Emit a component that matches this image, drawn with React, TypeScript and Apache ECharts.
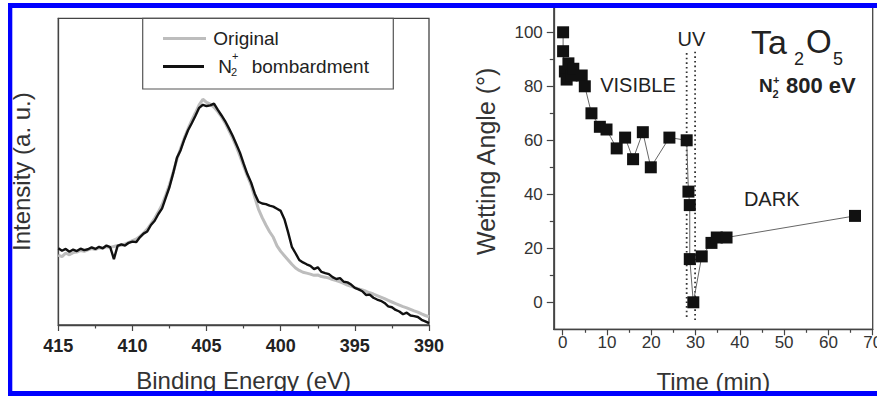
import React, { useEffect, useRef } from "react";
import * as echarts from "echarts";

// ---------- Left panel: XPS spectra ----------
const bindingEnergy = [
  415, 414.75, 414.5, 414.25, 414, 413.75, 413.5, 413.25, 413, 412.75, 412.5, 412.25, 412,
  411.75, 411.5, 411.25, 411, 410.75, 410.5, 410.25, 410, 409.75, 409.5, 409.25, 409, 408.75,
  408.5, 408.25, 408, 407.75, 407.5, 407.25, 407, 406.75, 406.5, 406.25, 406, 405.75, 405.5,
  405.25, 405, 404.75, 404.5, 404.25, 404, 403.75, 403.5, 403.25, 403, 402.75, 402.5, 402.25,
  402, 401.75, 401.5, 401.25, 401, 400.75, 400.5, 400.25, 400, 399.75, 399.5, 399.25, 399,
  398.75, 398.5, 398.25, 398, 397.75, 397.5, 397.25, 397, 396.75, 396.5, 396.25, 396, 395.75,
  395.5, 395.25, 395, 394.75, 394.5, 394.25, 394, 393.75, 393.5, 393.25, 393, 392.75, 392.5,
  392.25, 392, 391.75, 391.5, 391.25, 391, 390.75, 390.5, 390.25, 390,
];

const originalIntensity = [
  22.8, 22.3, 23.4, 22.9, 23.6, 23.8, 24.3, 24.0, 24.5, 24.9, 24.6, 25.2, 25.1,
  25.5, 25.3, 25.6, 25.9, 26.0, 26.4, 26.9, 27.5, 28.0, 28.9, 30.0, 31.3, 33.0,
  34.8, 36.9, 39.2, 42.4, 45.8, 49.8, 54.0, 57.6, 61.0, 64.0, 66.7, 69.2, 71.8,
  73.6, 72.6, 72.0, 71.0, 69.6, 67.9, 65.9, 63.5, 61.0, 58.2, 55.1, 51.8, 48.6,
  45.7, 41.6, 37.8, 35.0, 32.6, 30.4, 28.6, 25.8, 24.0, 22.6, 21.2, 19.8, 18.6,
  17.8, 17.2, 16.9, 16.6, 16.2, 16.3, 15.8, 15.6, 15.3, 14.8, 14.5, 14.1, 13.6,
  13.0, 12.6, 12.2, 11.8, 11.4, 11.0, 10.5, 10.1, 9.6, 9.1, 8.6, 8.0, 7.5,
  7.0, 6.5, 6.0, 5.6, 5.1, 4.6, 4.2, 3.6, 3.1, 2.7,
];

const bombardedIntensity = [
  25.0, 24.2, 24.8, 23.9, 24.6, 24.1, 24.9, 24.4, 24.7, 25.3, 24.8, 25.5, 25.0,
  25.9, 25.4, 21.5, 25.8, 26.3, 25.9, 26.8, 27.2, 27.0, 28.6, 29.8, 30.5, 32.6,
  34.0, 36.2, 38.0, 41.5, 45.0, 49.5, 54.5, 57.0, 60.5, 63.5, 65.8, 68.2, 70.8,
  71.8, 71.4, 71.6, 72.2, 70.2, 68.4, 66.5, 64.2, 61.8, 59.0, 56.2, 52.6, 49.2,
  46.5, 42.8, 40.2, 39.6, 39.4, 38.9, 38.6, 37.9, 37.2, 34.5, 30.2, 25.5, 23.4,
  21.2, 20.4, 19.8, 19.3, 18.2, 18.8, 17.3, 16.9, 16.6, 15.6, 15.0, 15.3, 14.1,
  13.9, 13.2, 12.1, 11.6, 11.0, 9.8, 9.9, 8.9, 8.3, 7.9, 7.2, 6.1, 5.8,
  4.9, 4.4, 3.5, 4.0, 3.1, 2.9, 2.6, 1.7, 1.2, 0.6,
];

const energyTickLabels = [415, 410, 405, 400, 395, 390];

// ---------- Right panel: wetting angle ----------
const timeMin = [
  0.1, 0.1, 0.5, 0.9, 1.3, 2.0, 2.4, 4.3, 5.0, 6.5, 8.4, 9.9, 12.2, 14.1, 15.9, 18.1, 19.9,
  24.1, 28.0, 28.4, 28.7, 28.7, 29.5, 31.4, 33.6, 34.8, 37.0, 66.0,
];
const wettingAngle = [
  100, 93, 85.5, 82.5, 88.5, 84, 86.5, 84, 80, 70, 65, 64, 57, 61, 53, 63, 50,
  61, 60, 41, 36, 16, 0, 17, 22, 24, 24, 32,
];
const uvStartLine = [[28.0, 92.3], [28.0, -6.2]];
const uvEndLine = [[29.9, 92.8], [29.9, -6.6]];

const timeTickLabels = [0, 10, 20, 30, 40, 50, 60, 70];
const timeMinorTicks = [5, 15, 25, 35, 45, 55, 65];
const angleTickLabels = [0, 20, 40, 60, 80, 100];
const angleMinorTicks = [10, 30, 50, 70, 90];

const FONT = "'Liberation Sans', Arial, Helvetica, sans-serif";
const AXIS_COLOR = "#444";
const BLUE = "#0000ff";

function txt(text: string, x: number, y: number, size: number, opts: any = {}) {
  return {
    type: "text",
    x,
    y,
    z: 50,
    style: {
      text,
      fill: opts.fill || "#222",
      fontSize: size,
      fontFamily: FONT,
      fontWeight: opts.bold ? "bold" : "normal",
      align: opts.align || "left",
      verticalAlign: "middle",
    },
  };
}

export default function App() {
  const ref = useRef<HTMLDivElement>(null);

  useEffect(() => {
    if (!ref.current) return;
    const chart = echarts.init(ref.current, null, { renderer: "svg" });

    const axisLine = { show: true, onZero: false, lineStyle: { color: AXIS_COLOR, width: 1.3 } };
    const tickStyle = { color: AXIS_COLOR, width: 1.2 };

    const option: any = {
      animation: false,
      backgroundColor: "#fff",
      grid: [
        {
          left: 58.3, top: 18.3, width: 370.7, height: 306.7,
          show: true, borderColor: AXIS_COLOR, borderWidth: 1.3, backgroundColor: "transparent",
          outerBoundsMode: "none",
        },
        {
          left: 553.8, top: 5.3, width: 318.9, height: 324,
          show: true, borderColor: AXIS_COLOR, borderWidth: 1.3, backgroundColor: "transparent",
          outerBoundsMode: "none",
        },
      ],
      xAxis: [
        {
          gridIndex: 0, type: "value", min: 390, max: 415, inverse: true, interval: 5,
          axisLine,
          axisTick: { show: true, inside: false, length: 6, lineStyle: tickStyle },
          minorTick: { show: true, splitNumber: 2, length: 3.5, lineStyle: tickStyle },
          splitLine: { show: false }, minorSplitLine: { show: false },
          axisLabel: {
            fontSize: 18, fontWeight: "bold", color: "#222", fontFamily: FONT, margin: 12,
            formatter: (v: number) => (energyTickLabels.includes(v) ? String(v) : ""),
          },
          name: "Binding Energy (eV)", nameLocation: "middle", nameGap: 43,
          nameTextStyle: { fontSize: 24, color: "#333", fontFamily: FONT },
        },
        {
          gridIndex: 1, type: "value", min: -2, max: 70,
          axisLine,
          axisTick: { show: true, inside: false, length: 6, lineStyle: tickStyle, customValues: timeTickLabels },
          axisLabel: { fontSize: 17, color: "#333", fontFamily: FONT, margin: 5, customValues: timeTickLabels },
          splitLine: { show: false },
          name: "Time (min)", nameLocation: "middle", nameGap: 40,
          nameTextStyle: { fontSize: 24, color: "#333", fontFamily: FONT },
        },
        {
          gridIndex: 1, type: "value", min: -2, max: 70, position: "bottom",
          axisLine: { show: false, onZero: false },
          axisTick: { show: true, inside: false, length: 3.5, lineStyle: tickStyle, customValues: timeMinorTicks },
          axisLabel: { show: false },
          splitLine: { show: false },
        },
      ],
      yAxis: [
        {
          gridIndex: 0, type: "value", min: 0, max: 100,
          axisLine,
          axisTick: { show: false },
          axisLabel: { show: false },
          splitLine: { show: false },
          name: "Intensity (a. u.)", nameLocation: "middle", nameGap: 25, nameRotate: 90,
          nameTextStyle: { fontSize: 24, color: "#333", fontFamily: FONT },
        },
        {
          gridIndex: 1, type: "value", min: -10, max: 110,
          axisLine,
          axisTick: { show: true, inside: false, length: 7, lineStyle: tickStyle, customValues: angleTickLabels },
          axisLabel: { fontSize: 17, color: "#333", fontFamily: FONT, margin: 11, customValues: angleTickLabels },
          splitLine: { show: false },
          name: "Wetting Angle (°)", nameLocation: "middle", nameGap: 55, nameRotate: 90,
          nameTextStyle: { fontSize: 25, color: "#333", fontFamily: FONT, padding: [0, 0, 0, 12] },
        },
        {
          gridIndex: 1, type: "value", min: -10, max: 110, position: "left",
          axisLine: { show: false, onZero: false },
          axisTick: { show: true, inside: false, length: 4, lineStyle: tickStyle, customValues: angleMinorTicks },
          axisLabel: { show: false },
          splitLine: { show: false },
        },
      ],
      series: [
        {
          name: "Original", type: "line", xAxisIndex: 0, yAxisIndex: 0, showSymbol: false,
          data: bindingEnergy.map((e, i) => [e, originalIntensity[i]]),
          lineStyle: { color: "#bdbdbd", width: 3 }, itemStyle: { color: "#bdbdbd" },
        },
        {
          name: "N2+ bombardment", type: "line", xAxisIndex: 0, yAxisIndex: 0, showSymbol: false,
          data: bindingEnergy.map((e, i) => [e, bombardedIntensity[i]]),
          lineStyle: { color: "#111", width: 2.4 }, itemStyle: { color: "#111" },
        },
        {
          name: "UV on", type: "line", xAxisIndex: 1, yAxisIndex: 1, showSymbol: false,
          data: uvStartLine,
          lineStyle: { color: "#333", width: 1.8, type: [1.6, 3] },
        },
        {
          name: "UV off", type: "line", xAxisIndex: 1, yAxisIndex: 1, showSymbol: false,
          data: uvEndLine,
          lineStyle: { color: "#333", width: 1.8, type: [1.6, 3] },
        },
        {
          name: "Wetting angle", type: "line", xAxisIndex: 1, yAxisIndex: 1,
          symbol: "rect", symbolSize: 12, showSymbol: true,
          data: timeMin.map((t, i) => [t, wettingAngle[i]]),
          lineStyle: { color: "#666", width: 1 }, itemStyle: { color: "#111" },
          z: 5,
        },
      ],
      graphic: [
        // legend (left panel)
        { type: "rect", z: 40, shape: { x: 142.7, y: 18.3, width: 250.6, height: 70.7 },
          style: { fill: "transparent", stroke: "#555", lineWidth: 1.2 } },
        { type: "line", z: 40, shape: { x1: 163, y1: 38.5, x2: 206, y2: 38.5 },
          style: { stroke: "#bdbdbd", lineWidth: 3 } },
        { type: "line", z: 40, shape: { x1: 163, y1: 66.5, x2: 204, y2: 66.5 },
          style: { stroke: "#111", lineWidth: 3 } },
        txt("Original", 213.3, 38.4, 19),
        txt("N", 218.3, 66.7, 19),
        txt("2", 231, 72, 11),
        txt("+", 232, 56, 11),
        txt("bombardment", 251.7, 66.7, 19),
        // right panel annotations
        txt("UV", 691.5, 38.5, 20, { align: "center" }),
        txt("VISIBLE", 638, 85, 20, { align: "center" }),
        txt("DARK", 771.7, 199, 20, { align: "center" }),
        txt("Ta", 751, 41.8, 34),
        txt("2", 794, 58.7, 18),
        txt("O", 806, 41.8, 33),
        txt("5", 833, 58.7, 18),
        txt("N", 759, 85, 19, { bold: true }),
        txt("2", 772.5, 94, 11, { bold: true }),
        txt("+", 773, 80, 11, { bold: true }),
        txt("800 eV", 786, 85, 22, { bold: true }),
        // blue frame
        { type: "rect", z: 100, shape: { x: 8, y: 3, width: 869, height: 5 }, style: { fill: BLUE } },
        { type: "rect", z: 100, shape: { x: 8, y: 3, width: 4.3, height: 393 }, style: { fill: BLUE } },
        { type: "rect", z: 100, shape: { x: 8, y: 391, width: 869, height: 5 }, style: { fill: BLUE } },
      ],
    };

    chart.setOption(option);
    return () => chart.dispose();
  }, []);

  return (
    <div
      ref={ref}
      style={{ position: "fixed", left: 0, top: 0, width: 877, height: 398, background: "#fff" }}
    />
  );
}
